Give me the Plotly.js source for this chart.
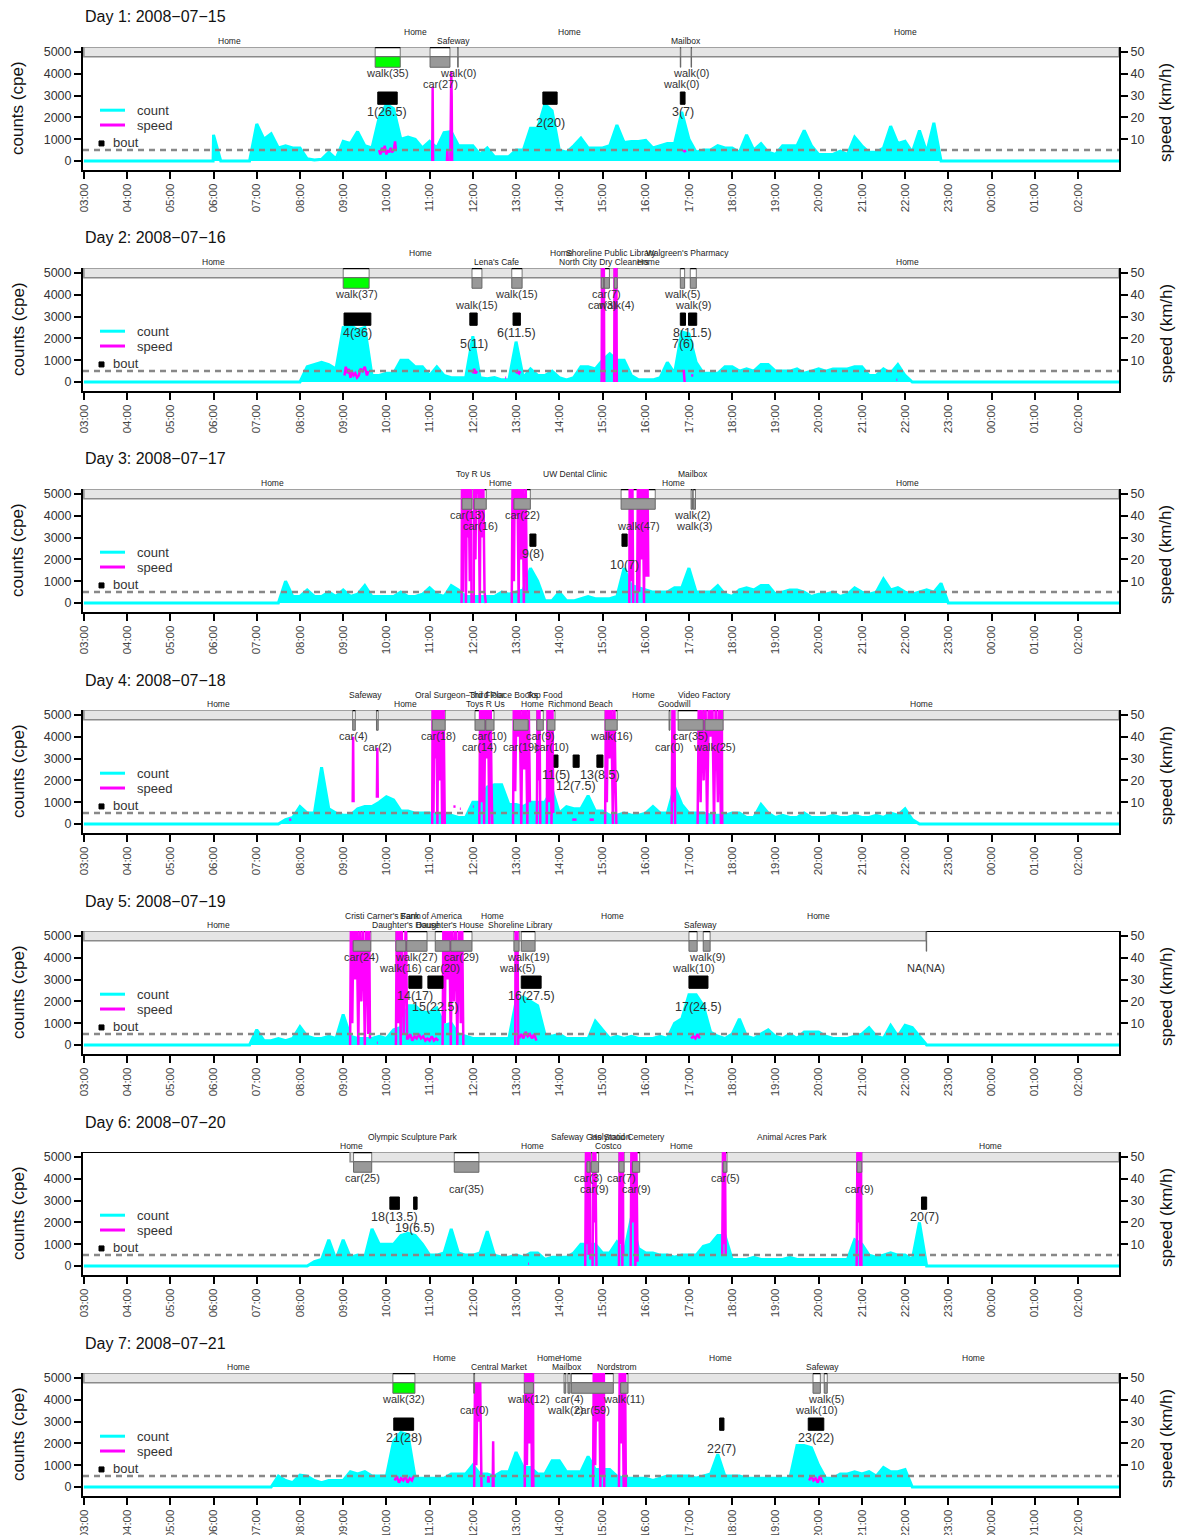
<!DOCTYPE html>
<html><head><meta charset="utf-8">
<script src="https://cdn.plot.ly/plotly-3.0.1.min.js"></script>
<style>html,body{margin:0;padding:0;background:#fff}#chart{width:1177px;height:1535px}</style>
</head><body><div id="chart"></div>
<script>
// ---------------- DATA ----------------
const hourTicks = [3,4,5,6,7,8,9,10,11,12,13,14,15,16,17,18,19,20,21,22,23,24,25,26];
const hourLabels = ['03:00','04:00','05:00','06:00','07:00','08:00','09:00','10:00','11:00','12:00','13:00','14:00','15:00','16:00','17:00','18:00','19:00','20:00','21:00','22:00','23:00','00:00','01:00','02:00'];
const dayTitles = ['Day 1: 2008\u221207\u221215','Day 2: 2008\u221207\u221216','Day 3: 2008\u221207\u221217','Day 4: 2008\u221207\u221218','Day 5: 2008\u221207\u221219','Day 6: 2008\u221207\u221220','Day 7: 2008\u221207\u221221'];
// GPS coverage (hours, 27 = 03:00 next day)
const barSpans = [[3,26.95],[3,26.95],[3,26.95],[3,26.95],[3,22.49],[9.16,26.95],[3,26.95]];
// counts (cpe): 10-minute bins from 06:00 to 22:50, zero elsewhere
const countStart = 6;
const day1Count = [
1200,0,0,0,0,0,
1700,1000,1250,600,700,600,
600,100,50,80,400,100,
900,800,1350,700,600,2000,
2600,2400,1000,1100,1000,600,
900,600,1300,1350,700,700,
700,300,600,200,200,200,
500,500,1500,1500,2600,2300,
500,400,700,1050,600,600,
600,700,1650,850,900,900,
950,600,700,800,800,2250,
1000,400,500,500,700,600,
600,400,1200,500,800,400,
300,700,700,700,1400,700,
300,300,300,450,300,1100,
700,400,400,600,1600,800,
900,400,1400,400,1750,0];
const day2Count = [
0,0,0,0,0,0,
0,0,0,0,0,0,
0,700,800,900,800,600,
2500,2600,2400,2500,300,300,
400,400,1000,1000,700,700,
300,700,300,200,200,200,
2100,200,150,200,100,100,
1850,200,600,300,300,500,
200,100,200,700,700,600,
1000,1300,1000,1000,300,100,
100,100,200,900,400,2300,
2200,900,400,400,400,700,
700,500,600,500,800,800,
500,500,500,600,400,500,
600,500,600,600,600,700,
700,300,300,600,400,800,
300,0,0,0,0,0];
const day3Count = [
0,0,0,0,0,0,
0,0,0,0,1000,300,
300,600,300,300,500,300,
600,300,400,800,300,300,
300,300,500,300,300,400,
700,400,300,800,600,300,
300,300,300,300,500,400,
500,600,1600,1000,100,100,
500,100,100,200,300,200,
200,200,300,1600,800,700,
600,500,500,500,700,700,
1600,500,500,500,800,400,
300,600,700,600,800,800,
400,500,600,600,500,300,
400,400,500,300,400,700,
500,400,500,1100,600,700,
500,400,500,600,500,900];
const day4Count = [
0,0,0,0,0,0,
0,0,0,0,200,300,
800,500,500,2600,700,500,
400,400,700,800,800,1000,
1250,1100,600,600,500,500,
500,400,400,400,300,300,
1000,1000,1700,1800,1800,900,
900,800,1000,1000,1000,1600,
500,800,700,700,1300,600,
600,400,400,500,400,400,
500,800,500,500,1700,900,
500,500,500,400,400,400,
500,500,300,300,900,500,
300,400,300,300,500,300,
300,300,400,300,300,400,
300,300,400,300,500,400,
700,200,0,0,0,0];
const day5Count = [
0,0,0,0,0,0,
700,200,200,300,200,300,
840,400,300,300,400,300,
1400,400,300,300,300,400,
300,700,800,1800,1800,1500,
1500,1700,900,1000,500,400,
300,300,300,300,300,300,
2000,2200,2000,1800,500,400,
500,300,300,300,300,1100,
700,300,400,300,400,300,
300,300,400,300,1000,1200,
2300,2300,1800,600,400,300,
500,1200,400,300,500,700,
400,300,500,300,600,600,
600,400,300,300,300,400,
500,800,400,300,900,400,
900,800,400,0,0,0];
const day6Count = [
0,0,0,0,0,0,
0,0,0,0,0,0,
0,0,200,300,1200,300,
1200,400,500,400,1700,1000,
1000,1000,1400,1500,1400,1000,
500,500,600,1700,600,500,
500,600,1600,500,400,400,
500,400,600,600,300,400,
400,400,600,1000,1000,1000,
600,600,1100,600,2200,800,
600,600,500,500,400,500,
500,500,900,1000,1400,1400,
300,300,300,400,300,300,
300,300,400,300,300,300,
300,300,300,300,300,1200,
1000,500,400,500,600,500,
500,300,2000,0,0,0];
const day7Count = [
0,0,0,0,0,0,
0,0,0,500,300,200,
550,500,300,200,300,300,
300,700,600,700,500,500,
500,2100,2500,2400,400,400,
400,400,400,600,600,600,
1000,600,600,500,700,700,
1600,900,900,600,600,1200,
1200,700,700,700,1400,800,
800,800,500,400,400,400,
400,300,400,500,500,500,
500,400,500,600,1500,500,
500,500,400,400,400,400,
400,400,400,1900,1900,1800,
1000,400,400,600,600,700,
600,700,500,900,700,700,
800,0,0,0,0,0];
// speed (km/h): [hour, value]; [hour, null] breaks the line
const day1Speed = [[9.83,5],[9.86,3],[9.9,6],[9.93,4],[9.96,7],[10.0,3],[10.03,5],[10.06,4],[10.1,6],[10.13,4],[10.17,5],[10.2,9],[10.22,5],[10.23,null],
[11.06,0],[11.07,34],[11.08,0],[11.09,null],[11.4,0],[11.41,5],[11.42,0],[11.43,null],[11.48,0],[11.5,41],[11.51,30],[11.52,0],[11.53,null],[16.88,4],[16.9,5],[16.92,4]];
const day2Speed = [[9.03,3],[9.06,7],[9.1,4],[9.13,6],[9.17,2],[9.2,5],[9.24,3],[9.28,4],[9.32,2],[9.36,3],[9.4,6],[9.45,5],[9.5,7],[9.55,3],[9.58,5],[9.59,null],
[12.0,4],[12.03,6],[12.06,4],[12.1,5],[12.11,null],[12.75,2],[12.77,2],[12.78,null],[13.0,4],[13.03,5],[13.07,4],[13.1,5],[13.11,null],
[14.98,0],[14.99,60],[15.0,30],[15.01,60],[15.02,10],[15.03,60],[15.04,0],[15.05,null],[15.27,0],[15.28,60],[15.29,20],[15.3,60],[15.31,40],[15.32,60],[15.33,0],[15.34,null],
[16.85,5],[16.88,5],[16.9,0],[16.91,null],[17.05,3],[17.08,3],[17.1,3],[17.11,null],[21.8,1],[21.82,1]];
const day3Speed = [[11.74,0],[11.75,60],[11.77,5],[11.78,60],[11.8,40],[11.82,60],[11.84,0],[11.86,60],[11.88,30],[11.9,60],[11.93,10],[11.95,60],[11.97,0],[11.98,null],
[12.02,0],[12.03,60],[12.06,20],[12.08,60],[12.1,50],[12.13,60],[12.16,0],[12.18,60],[12.21,30],[12.24,60],[12.27,5],[12.3,0],[12.31,null],
[12.9,0],[12.92,60],[12.95,10],[12.97,60],[13.0,40],[13.03,60],[13.06,0],[13.08,60],[13.12,20],[13.15,60],[13.18,0],[13.22,60],[13.25,5],[13.26,null],
[15.62,0],[15.63,60],[15.66,10],[15.69,60],[15.71,0],[15.72,null],[15.8,0],[15.82,60],[15.85,5],[15.88,60],[15.9,20],[15.93,60],[15.96,0],[15.98,60],[16.01,12],[16.04,60],[16.06,12]];
const day4Speed = [[7.75,2],[7.8,2],[7.81,null],[9.22,10],[9.23,40],[9.24,10],[9.25,null],[9.78,12],[9.79,35],[9.8,12],[9.81,null],
[11.06,0],[11.07,60],[11.09,5],[11.11,60],[11.13,30],[11.15,60],[11.18,0],[11.2,60],[11.23,20],[11.26,60],[11.29,0],[11.32,60],[11.35,0],[11.36,null],[11.55,8],[11.6,8],[11.61,null],[11.7,7],[11.72,7],[11.73,null],[12.0,8],[12.02,8],[12.03,null],
[12.15,0],[12.17,60],[12.2,10],[12.23,60],[12.26,0],[12.29,60],[12.32,30],[12.35,60],[12.38,0],[12.41,60],[12.43,20],[12.45,0],[12.46,null],
[12.93,0],[12.95,60],[12.98,15],[13.01,60],[13.05,40],[13.08,60],[13.12,0],[13.15,60],[13.19,25],[13.22,60],[13.26,0],[13.29,60],[13.32,10],[13.33,null],
[13.48,0],[13.5,60],[13.52,20],[13.54,60],[13.56,0],[13.57,null],[13.71,0],[13.73,60],[13.76,10],[13.79,60],[13.82,0],[13.84,60],[13.86,5],[13.87,null],
[14.3,2],[14.35,2],[14.4,2],[14.41,null],[14.7,2],[14.75,2],[14.8,2],[14.81,null],
[15.06,0],[15.08,60],[15.1,10],[15.13,60],[15.16,30],[15.2,60],[15.24,0],[15.27,60],[15.3,20],[15.32,0],[15.33,null],
[16.6,0],[16.62,60],[16.64,10],[16.66,60],[16.68,0],[16.69,null],
[17.2,0],[17.23,60],[17.27,10],[17.3,60],[17.34,20],[17.38,60],[17.42,0],[17.46,60],[17.5,40],[17.54,60],[17.58,0],[17.62,60],[17.67,10],[17.7,60],[17.74,0],[17.76,60],[17.77,0]];
const day5Speed = [[9.16,0],[9.18,60],[9.21,10],[9.24,60],[9.28,30],[9.31,60],[9.35,0],[9.38,60],[9.42,20],[9.46,60],[9.5,0],[9.54,60],[9.58,5],[9.6,60],[9.62,3],[9.63,null],[9.78,1],[9.8,1],[9.81,null],
[10.22,0],[10.24,60],[10.27,10],[10.3,60],[10.33,0],[10.35,60],[10.4,5],[10.45,60],[10.48,3],[10.5,3],[10.55,5],[10.6,2],[10.65,4],[10.7,3],[10.75,5],[10.8,3],[10.85,4],[10.9,2],[10.95,3],[11.0,2],[11.05,4],[11.1,2],[11.15,3],[11.2,2],[11.21,null],
[11.3,0],[11.32,60],[11.35,10],[11.38,60],[11.42,30],[11.45,60],[11.49,0],[11.52,60],[11.56,20],[11.6,60],[11.64,0],[11.68,60],[11.72,10],[11.75,60],[11.78,0],[11.79,null],
[12.98,0],[12.99,60],[13.01,20],[13.03,60],[13.05,0],[13.06,null],
[13.07,3],[13.12,5],[13.17,3],[13.22,6],[13.27,4],[13.32,5],[13.37,3],[13.42,5],[13.47,2],[13.48,null],
[17.05,3],[17.1,4],[17.15,3],[17.2,5],[17.25,3]];
const day6Speed = [[13.28,1],[13.3,1],[13.31,null],
[14.6,0],[14.62,60],[14.64,10],[14.66,60],[14.68,5],[14.7,60],[14.72,3],[14.73,null],[14.77,0],[14.79,60],[14.81,20],[14.83,60],[14.86,0],[14.87,null],
[15.38,0],[15.4,60],[15.42,10],[15.44,60],[15.46,0],[15.47,60],[15.48,5],[15.49,null],[15.65,0],[15.67,60],[15.7,20],[15.73,60],[15.76,0],[15.78,60],[15.81,2],[15.82,null],
[17.77,5],[17.79,60],[17.81,10],[17.83,60],[17.85,5],[17.86,null],
[20.88,0],[20.9,60],[20.92,20],[20.94,60],[20.96,0],[20.98,60],[20.99,0]];
const day7Speed = [[10.19,3],[10.24,5],[10.29,2],[10.34,4],[10.39,3],[10.44,5],[10.49,2],[10.54,4],[10.59,3],[10.63,5],[10.64,null],
[12.03,0],[12.05,48],[12.08,10],[12.11,48],[12.14,30],[12.17,48],[12.2,0],[12.21,null],[12.35,2],[12.36,5],[12.37,2],[12.38,null],[12.46,0],[12.47,21],[12.48,0],[12.49,null],
[13.2,0],[13.22,60],[13.25,10],[13.28,60],[13.31,20],[13.34,60],[13.37,0],[13.39,60],[13.4,0],[13.41,null],
[14.78,0],[14.8,60],[14.83,10],[14.86,60],[14.89,30],[14.92,60],[14.95,0],[14.98,60],[15.01,5],[15.03,60],[15.04,0],[15.05,null],
[15.38,0],[15.4,60],[15.43,20],[15.46,60],[15.49,0],[15.52,60],[15.54,0],[15.55,null],
[19.78,3],[19.83,5],[19.88,3],[19.93,4],[19.98,2],[20.03,5],[20.08,3],[20.1,2]];
// trips: [start, end, label, green?]
const day1Trips = [[9.74,10.32,'walk(35)',1],[11.01,11.47,'car(27)',0],[11.65,11.66,'walk(0)',0],[16.8,16.81,'walk(0)',0],[17.05,17.06,'walk(0)',0]];
const day2Trips = [[9.0,9.6,'walk(37)',1],[11.98,12.21,'walk(15)',0],[12.9,13.14,'walk(15)',0],[14.97,15.03,'car(3)',0],[15.04,15.16,'car(7)',0],[15.27,15.34,'walk(4)',0],[16.8,16.9,'walk(5)',0],[17.03,17.17,'walk(9)',0]];
const day3Trips = [[11.75,11.98,'car(13)',0],[12.03,12.31,'car(16)',0],[12.95,13.33,'car(22)',0],[15.43,16.22,'walk(47)',0],[17.05,17.08,'walk(2)',0],[17.1,17.15,'walk(3)',0]];
const day4Trips = [[9.22,9.28,'car(4)',0],[9.77,9.81,'car(2)',0],[11.06,11.36,'car(18)',0],[12.05,12.28,'car(14)',0],[12.3,12.49,'car(10)',0],[12.94,13.28,'car(19)',0],[13.48,13.63,'car(9)',0],[13.72,13.9,'car(10)',0],[15.06,15.34,'walk(16)',0],[16.54,16.56,'car(0)',0],[16.75,17.33,'car(35)',0],[17.37,17.79,'walk(25)',0]];
const day5Trips = [[9.23,9.64,'car(24)',0],[10.22,10.45,'walk(16)',0],[10.47,10.94,'walk(27)',0],[11.13,11.47,'car(20)',0],[11.49,11.98,'car(29)',0],[12.95,13.07,'walk(5)',0],[13.12,13.44,'walk(19)',0],[17.0,17.19,'walk(10)',0],[17.33,17.49,'walk(9)',0],[22.49,22.49,'NA(NA)',0]];
const day6Trips = [[9.24,9.66,'car(25)',0],[11.57,12.14,'car(35)',0],[14.64,14.71,'car(3)',0],[14.74,14.91,'car(9)',0],[15.38,15.5,'car(7)',0],[15.69,15.86,'car(9)',0],[17.79,17.88,'car(5)',0],[20.89,21.0,'car(9)',0]];
const day7Trips = [[10.15,10.66,'walk(32)',1],[12.02,12.04,'car(0)',0],[13.19,13.4,'walk(12)',0],[14.11,14.15,'walk(2)',0],[14.2,14.25,'car(4)',0],[14.28,15.25,'car(59)',0],[15.42,15.59,'walk(11)',0],[19.87,20.04,'walk(10)',0],[20.13,20.2,'walk(5)',0]];
// places between trips
const day1Places = ['Home','Home','Safeway','Home','Mailbox','Home'];
const day2Places = ['Home','Home',"Lena's Cafe",'Home','North City Dry Cleaners','Shoreline Public Library','Home',"Walgreen's Pharmacy",'Home'];
const day3Places = ['Home','Toy R Us','Home','UW Dental Clinic','Home','Mailbox','Home'];
const day4Places = ['Home','Safeway','Home','Oral Surgeon\u22123rd Floor','Toys R Us','Third Place Books','Home','Top Food','Richmond Beach','Home','Goodwill','Video Factory','Home'];
const day5Places = ['Home',"Cristi Carner's Farm","Daughter's House",'Bank of America',"Daughter's House",'Home','Shoreline Library','Home','Safeway','Home'];
const day6Places = ['Home','Olympic Sculpture Park','Home','Safeway Gas Station','Costco','Holyrood Cemetery','Home','Animal Acres Park','Home'];
const day7Places = ['Home','Home','Central Market','Home','Mailbox','Home','Nordstrom','Home','Safeway','Home'];
// activity bouts: [start, end, label]
const day1Bouts = [[9.8,10.25,'1(26.5)'],[13.62,13.95,'2(20)'],[16.8,16.91,'3(7)']];
const day2Bouts = [[9.02,9.64,'4(36)'],[11.93,12.1,'5(11)'],[12.93,13.1,'6(11.5)'],[16.8,16.92,'7(6)'],[16.99,17.18,'8(11.5)']];
const day3Bouts = [[13.32,13.46,'9(8)'],[15.45,15.57,'10(7)']];
const day4Bouts = [[13.88,13.97,'11(5)'],[14.32,14.46,'12(7.5)'],[14.87,15.01,'13(8.5)']];
const day5Bouts = [[10.52,10.82,'14(17)'],[10.96,11.31,'15(22.5)'],[13.12,13.58,'16(27.5)'],[17.0,17.44,'17(24.5)']];
const day6Bouts = [[10.08,10.3,'18(13.5)'],[10.63,10.71,'19(6.5)'],[22.38,22.5,'20(7)']];
const day7Bouts = [[10.17,10.63,'21(28)'],[17.71,17.81,'22(7)'],[19.76,20.12,'23(22)']];

// ---------------- BUILD ----------------
const counts = [day1Count,day2Count,day3Count,day4Count,day5Count,day6Count,day7Count];
const speeds = [day1Speed,day2Speed,day3Speed,day4Speed,day5Speed,day6Speed,day7Speed];
const trips = [day1Trips,day2Trips,day3Trips,day4Trips,day5Trips,day6Trips,day7Trips];
const places = [day1Places,day2Places,day3Places,day4Places,day5Places,day6Places,day7Places];
const bouts = [day1Bouts,day2Bouts,day3Bouts,day4Bouts,day5Bouts,day6Bouts,day7Bouts];

const W = 1177, H = 1535;
const FONT = 'Liberation Sans, Arial, Helvetica, sans-serif';
const X0 = 2.98, X1 = 26.95;
const YR = [-413, 5229], SR = [-4.13, 52.29];
const BAR_LO = 4784, BOX_LO = 4300;
const PLACE_ROWS_PX = [41, 32], TRIP_ROWS = [4037, 3530], BOUT_ROWS = [2250, 1740];
const BOUT_Y = [2600, 3165];
const XL = 83, XR = 1119;
const hToPaper = h => (XL + (h - X0) / (X1 - X0) * (XR - XL)) / W;

const data = [], shapes = [], ann = [];
const layout = {width: W, height: H, margin: {l:0,r:0,t:0,b:0}, showlegend: false,
  paper_bgcolor: '#fff', plot_bgcolor: '#fff', font: {family: FONT, color: '#333'}, hovermode: false};

for (let k = 0; k < 7; k++) {
  const xs = k ? 'x' + (k+1) : 'x';
  const ys = k ? 'y' + (k+1) : 'y';
  const ys2 = 'y' + (k+8);
  const topPx = 47 + 221*k, botPx = 170 + 221*k;
  const dom = [1 - botPx/H, 1 - topPx/H];
  layout[k ? 'xaxis'+(k+1) : 'xaxis'] = {domain: [XL/W, XR/W], range: [X0, X1], anchor: ys,
    tickmode: 'array', tickvals: hourTicks, ticktext: hourLabels, tickangle: -90,
    ticks: 'outside', ticklen: 7, tickwidth: 2, tickcolor: '#000',
    showline: true, linewidth: 2, linecolor: '#000', showgrid: false, zeroline: false,
    tickfont: {size: 11.5, color: '#444', family: FONT}, fixedrange: true};
  layout[k ? 'yaxis'+(k+1) : 'yaxis'] = {domain: dom, range: YR, anchor: xs,
    tickmode: 'array', tickvals: [0,1000,2000,3000,4000,5000],
    ticks: 'outside', ticklen: 7, tickwidth: 2, tickcolor: '#000',
    showline: true, linewidth: 2, linecolor: '#000', showgrid: false, zeroline: false,
    tickfont: {size: 12.5, color: '#333', family: FONT}, fixedrange: true};
  layout['yaxis'+(k+8)] = {range: SR, overlaying: ys, side: 'right', anchor: xs,
    tickmode: 'array', tickvals: [10,20,30,40,50],
    ticks: 'outside', ticklen: 7, tickwidth: 2, tickcolor: '#000',
    showline: true, linewidth: 2, linecolor: '#000', showgrid: false, zeroline: false,
    tickfont: {size: 12.5, color: '#333', family: FONT}, fixedrange: true};

  // count trace
  const cx = [3, countStart - 0.01], cy = [0, 0];
  counts[k].forEach((v, i) => { cx.push(countStart + i/6); cy.push(v); });
  cx.push(countStart + counts[k].length/6, X1); cy.push(0, 0);
  data.push({type: 'scatter', mode: 'lines', x: cx, y: cy, xaxis: xs, yaxis: ys,
    line: {color: '#00FFFF', width: 3, shape: 'linear'}, fill: 'tozeroy', fillcolor: '#00FFFF', hoverinfo: 'skip'});
  // speed trace
  data.push({type: 'scatter', mode: 'lines', x: speeds[k].map(p => p[0]), y: speeds[k].map(p => p[1]),
    xaxis: xs, yaxis: ys2, line: {color: '#FF00FF', width: 2.5}, connectgaps: false, hoverinfo: 'skip'});

  // top edge of box (black) + GPS bar
  shapes.push({type: 'line', xref: xs, yref: ys, x0: X0, x1: X1, y0: YR[1], y1: YR[1], line: {color: '#000', width: 2}, layer: 'below'});
  const [b0, b1] = barSpans[k];
  shapes.push({type: 'rect', xref: xs, yref: ys, x0: b0, x1: b1, y0: BAR_LO, y1: YR[1], fillcolor: '#E5E5E5', line: {color: '#8a8a8a', width: 1.5}, layer: 'below'});

  // trips
  trips[k].forEach((t, i) => {
    const s = t[0], e = Math.max(t[1], t[0] + 0.01);
    shapes.push({type: 'rect', xref: xs, yref: ys, x0: s, x1: e, y0: BAR_LO, y1: YR[1], fillcolor: '#fff', line: {color: '#777', width: 1}, layer: 'below'});
    shapes.push({type: 'line', xref: xs, yref: ys, x0: s, x1: e, y0: YR[1], y1: YR[1], line: {color: '#000', width: 2.5}, layer: 'below'});
    shapes.push({type: 'rect', xref: xs, yref: ys, x0: s, x1: e, y0: BOX_LO, y1: BAR_LO, fillcolor: t[3] ? '#00FF00' : '#999999', line: {color: '#666', width: 1}, layer: 'above'});
    ann.push({xref: xs, yref: ys, x: (t[0]+t[1])/2, y: TRIP_ROWS[i % 2], text: t[2], showarrow: false,
      xanchor: 'center', yanchor: 'middle', font: {size: 11, color: '#333', family: FONT}});
  });
  // places (above the box: paper coordinates)
  const tr = trips[k];
  places[k].forEach((p, i) => {
    const a = i === 0 ? b0 : tr[i-1][1];
    const b = i < tr.length ? tr[i][0] : b1;
    ann.push({xref: 'paper', yref: 'paper', x: hToPaper((a+b)/2), y: 1 - (PLACE_ROWS_PX[i % 2] + 221*k)/H, text: p, showarrow: false,
      xanchor: 'center', yanchor: 'middle', font: {size: 8.5, color: '#222', family: FONT}});
  });
  // dashed threshold line
  shapes.push({type: 'line', xref: xs, yref: ys, x0: X0, x1: X1, y0: 500, y1: 500, line: {color: '#888', width: 2.5, dash: '6px,5px'}, layer: 'above'});
  // bouts
  bouts[k].forEach((b, i) => {
    shapes.push({type: 'rect', xref: xs, yref: ys, x0: b[0], x1: b[1], y0: BOUT_Y[0], y1: BOUT_Y[1], fillcolor: '#000', line: {color: '#000', width: 1}, layer: 'above'});
    ann.push({xref: xs, yref: ys, x: (b[0]+b[1])/2, y: BOUT_ROWS[i % 2], text: b[2], showarrow: false,
      xanchor: 'center', yanchor: 'middle', font: {size: 12.5, color: '#333', family: FONT}});
  });
  // legend
  shapes.push({type: 'line', xref: 'paper', yref: ys, x0: 100/W, x1: 125/W, y0: 2330, y1: 2330, line: {color: '#00FFFF', width: 3}, layer: 'above'});
  shapes.push({type: 'line', xref: 'paper', yref: ys, x0: 100/W, x1: 125/W, y0: 1650, y1: 1650, line: {color: '#FF00FF', width: 3}, layer: 'above'});
  shapes.push({type: 'rect', xref: 'paper', yref: ys, x0: 99/W, x1: 104/W, y0: 690, y1: 920, fillcolor: '#000', line: {color: '#000', width: 1}, layer: 'above'});
  ann.push({xref: 'paper', yref: ys, x: 135/W, y: 2330, text: 'count', showarrow: false, xanchor: 'left', yanchor: 'middle', font: {size: 13, color: '#333', family: FONT}});
  ann.push({xref: 'paper', yref: ys, x: 135/W, y: 1650, text: 'speed', showarrow: false, xanchor: 'left', yanchor: 'middle', font: {size: 13, color: '#333', family: FONT}});
  ann.push({xref: 'paper', yref: ys, x: 111/W, y: 860, text: 'bout', showarrow: false, xanchor: 'left', yanchor: 'middle', font: {size: 13, color: '#333', family: FONT}});
  // titles
  ann.push({xref: 'paper', yref: 'paper', x: 83/W, y: 1 - (17 + 221*k)/H, text: dayTitles[k], showarrow: false, xanchor: 'left', yanchor: 'middle', font: {size: 16, color: '#111', family: FONT}});
  ann.push({xref: 'paper', yref: 'paper', x: 18/W, y: 1 - (108 + 221*k)/H, text: 'counts (cpe)', textangle: -90, showarrow: false, xanchor: 'center', yanchor: 'middle', font: {size: 17, color: '#111', family: FONT}});
  ann.push({xref: 'paper', yref: 'paper', x: 1166/W, y: 1 - (113 + 221*k)/H, text: 'speed (km/h)', textangle: -90, showarrow: false, xanchor: 'center', yanchor: 'middle', font: {size: 17, color: '#111', family: FONT}});
}
layout.shapes = shapes;
layout.annotations = ann;
Plotly.newPlot('chart', data, layout, {staticPlot: true, displayModeBar: false});
</script>
</body></html>
